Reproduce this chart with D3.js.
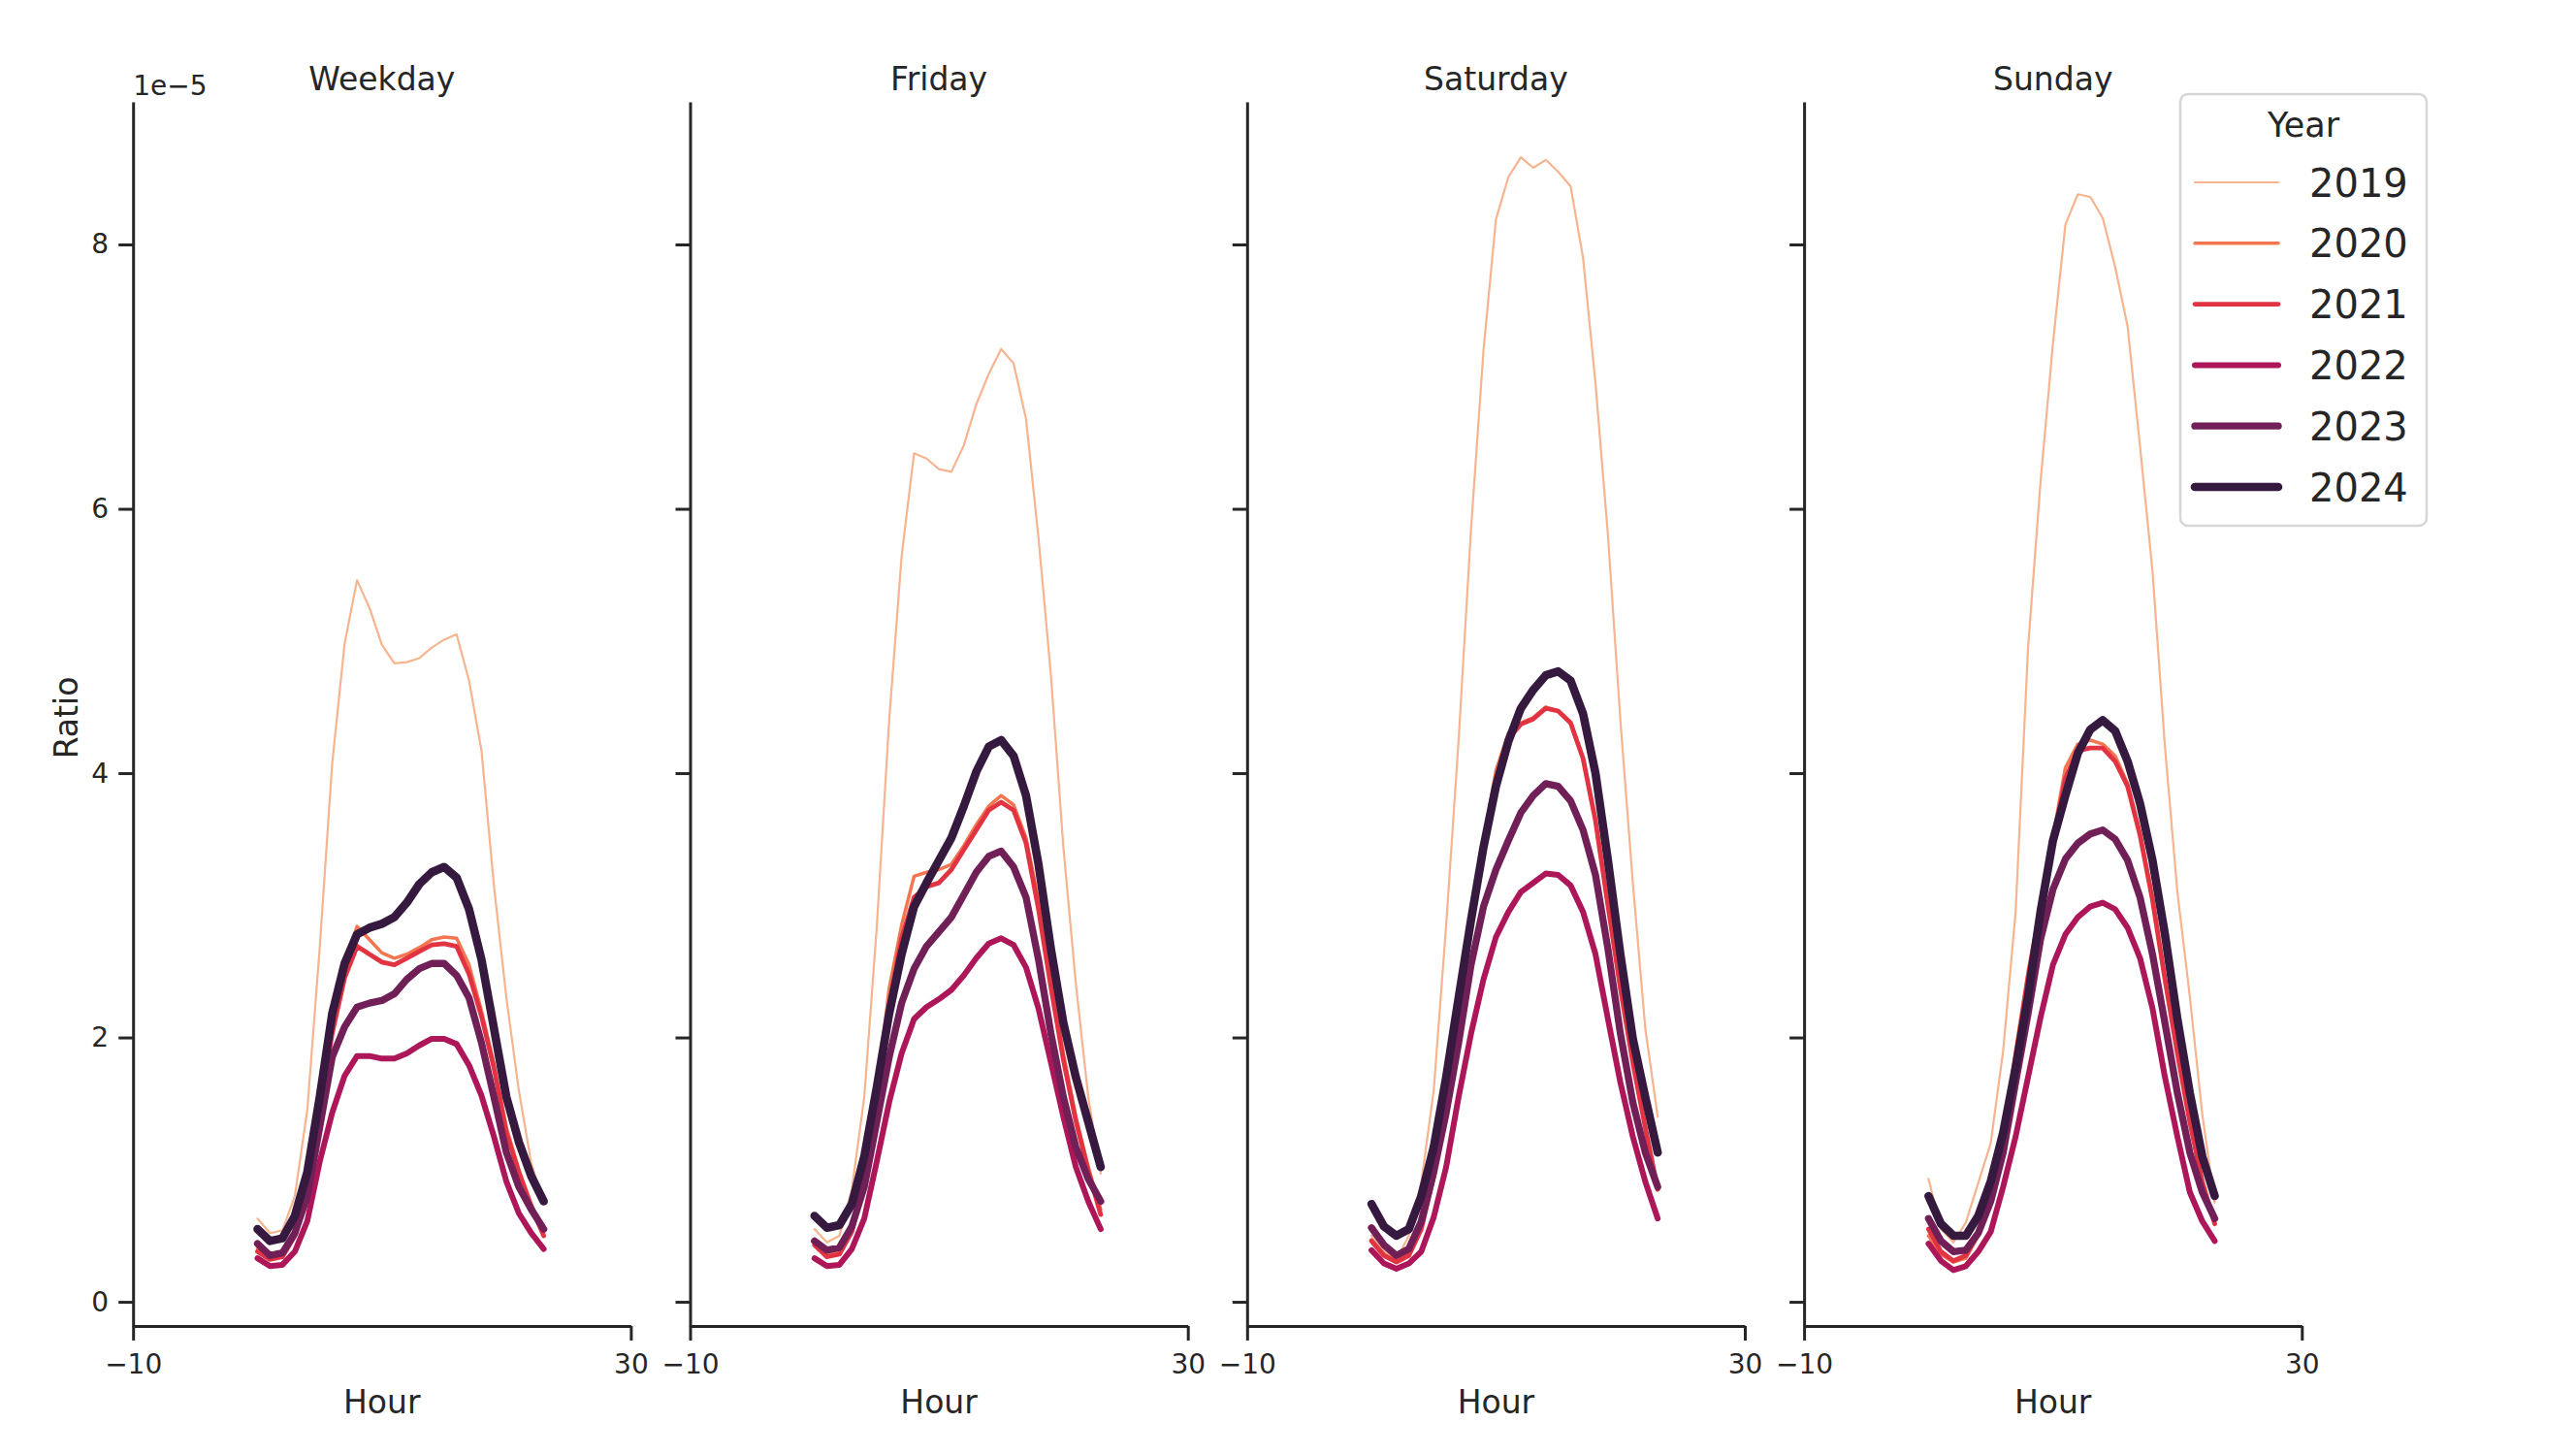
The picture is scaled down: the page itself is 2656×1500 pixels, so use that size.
<!DOCTYPE html>
<html>
<head>
<meta charset="utf-8">
<script src="https://cdn.jsdelivr.net/npm/d3@7"></script>
<style>
  html, body { margin: 0; padding: 0; background: #ffffff; }
  svg { display: block; }
  text { font-family: "DejaVu Sans", sans-serif; fill: #262626; }
</style>
</head>
<body>
<svg id="chart" width="2656" height="1500"></svg>
<script>
// ---------------- data (values in units of 1e-5) ----------------
const hours = [0, 1, 2, 3, 4, 5, 6, 7, 8, 9, 10, 11, 12, 13, 14, 15, 16, 17, 18, 19, 20, 21, 22, 23];
const years = ["2019", "2020", "2021", "2022", "2023", "2024"];
const panelNames = ["Weekday", "Friday", "Saturday", "Sunday"];
const yTicks = [0, 2, 4, 6, 8];
const xTicks = [-10, 30];
const yOffsetLabel = "1e\u22125";

const weekdayValues = [
  [0.63, 0.52, 0.54, 0.80, 1.45, 2.68, 4.07, 4.98, 5.46, 5.25, 4.97, 4.83, 4.84, 4.87, 4.95, 5.01, 5.05, 4.70, 4.17, 3.15, 2.30, 1.60, 1.05, 0.75],
  [0.40, 0.33, 0.35, 0.52, 0.92, 1.52, 2.12, 2.55, 2.84, 2.74, 2.64, 2.60, 2.63, 2.68, 2.74, 2.76, 2.75, 2.55, 2.20, 1.80, 1.32, 1.00, 0.74, 0.52],
  [0.38, 0.32, 0.34, 0.50, 0.85, 1.45, 2.03, 2.45, 2.69, 2.63, 2.57, 2.55, 2.60, 2.65, 2.70, 2.71, 2.69, 2.48, 2.16, 1.77, 1.28, 0.98, 0.72, 0.50],
  [0.33, 0.27, 0.28, 0.38, 0.61, 1.06, 1.43, 1.71, 1.86, 1.86, 1.84, 1.84, 1.88, 1.94, 1.99, 1.99, 1.95, 1.79, 1.56, 1.25, 0.91, 0.67, 0.52, 0.40],
  [0.44, 0.35, 0.37, 0.52, 0.80, 1.32, 1.85, 2.08, 2.23, 2.26, 2.28, 2.33, 2.44, 2.52, 2.56, 2.56, 2.47, 2.30, 1.96, 1.55, 1.13, 0.87, 0.70, 0.55],
  [0.55, 0.46, 0.48, 0.65, 0.98, 1.55, 2.18, 2.56, 2.78, 2.83, 2.86, 2.91, 3.02, 3.16, 3.25, 3.29, 3.21, 2.97, 2.59, 2.07, 1.55, 1.21, 0.95, 0.76]
];
const fridayValues = [
  [0.55, 0.45, 0.50, 0.85, 1.55, 2.83, 4.40, 5.64, 6.42, 6.38, 6.30, 6.28, 6.48, 6.79, 7.02, 7.21, 7.10, 6.68, 5.78, 4.74, 3.44, 2.41, 1.55, 0.97],
  [0.46, 0.36, 0.38, 0.56, 0.96, 1.58, 2.37, 2.85, 3.22, 3.25, 3.27, 3.31, 3.45, 3.61, 3.75, 3.83, 3.76, 3.51, 3.04, 2.44, 1.88, 1.40, 1.02, 0.70],
  [0.43, 0.34, 0.36, 0.53, 0.92, 1.52, 2.25, 2.75, 3.06, 3.14, 3.17, 3.27, 3.42, 3.57, 3.72, 3.78, 3.72, 3.47, 2.97, 2.38, 1.83, 1.37, 0.99, 0.66],
  [0.33, 0.27, 0.28, 0.40, 0.63, 1.06, 1.51, 1.88, 2.14, 2.23, 2.29, 2.36, 2.47, 2.60, 2.71, 2.75, 2.70, 2.53, 2.22, 1.81, 1.40, 1.02, 0.76, 0.55],
  [0.46, 0.39, 0.41, 0.57, 0.87, 1.36, 1.85, 2.26, 2.52, 2.69, 2.80, 2.91, 3.08, 3.25, 3.37, 3.41, 3.29, 3.06, 2.59, 2.03, 1.55, 1.17, 0.93, 0.76],
  [0.65, 0.56, 0.58, 0.74, 1.10, 1.62, 2.18, 2.63, 2.99, 3.17, 3.34, 3.51, 3.75, 4.01, 4.20, 4.25, 4.13, 3.83, 3.31, 2.67, 2.11, 1.70, 1.36, 1.02]
];
const saturdayValues = [
  [0.50, 0.38, 0.32, 0.50, 0.90, 1.60, 2.85, 4.25, 5.85, 7.20, 8.19, 8.51, 8.66, 8.58, 8.64, 8.55, 8.44, 7.90, 6.95, 5.80, 4.40, 3.17, 2.07, 1.40],
  [0.47, 0.36, 0.31, 0.36, 0.57, 0.97, 1.55, 2.22, 2.90, 3.47, 4.02, 4.30, 4.38, 4.42, 4.50, 4.47, 4.38, 4.11, 3.64, 3.00, 2.37, 1.81, 1.32, 0.85],
  [0.46, 0.35, 0.30, 0.35, 0.55, 0.95, 1.52, 2.18, 2.86, 3.43, 3.95, 4.26, 4.37, 4.41, 4.49, 4.47, 4.38, 4.11, 3.64, 3.00, 2.37, 1.81, 1.32, 0.85],
  [0.39, 0.29, 0.25, 0.29, 0.38, 0.64, 1.02, 1.55, 2.03, 2.44, 2.76, 2.95, 3.10, 3.17, 3.24, 3.23, 3.15, 2.95, 2.63, 2.14, 1.66, 1.25, 0.91, 0.63],
  [0.56, 0.43, 0.35, 0.40, 0.61, 0.98, 1.43, 1.96, 2.55, 2.99, 3.27, 3.49, 3.70, 3.83, 3.92, 3.90, 3.79, 3.57, 3.23, 2.67, 2.03, 1.51, 1.13, 0.87],
  [0.74, 0.57, 0.50, 0.55, 0.80, 1.17, 1.70, 2.30, 2.89, 3.44, 3.90, 4.24, 4.49, 4.63, 4.74, 4.77, 4.70, 4.45, 4.00, 3.34, 2.63, 1.99, 1.55, 1.13]
];
const sundayValues = [
  [0.93, 0.55, 0.45, 0.60, 0.90, 1.20, 1.90, 2.95, 4.95, 6.20, 7.25, 8.15, 8.38, 8.36, 8.20, 7.83, 7.38, 6.47, 5.53, 4.20, 3.10, 2.31, 1.42, 0.75],
  [0.50, 0.36, 0.30, 0.33, 0.50, 0.80, 1.27, 1.90, 2.50, 3.00, 3.52, 4.04, 4.22, 4.25, 4.22, 4.13, 3.92, 3.55, 3.06, 2.45, 1.88, 1.36, 0.91, 0.60],
  [0.55, 0.38, 0.31, 0.35, 0.52, 0.80, 1.25, 1.84, 2.45, 2.97, 3.48, 3.96, 4.17, 4.19, 4.19, 4.09, 3.90, 3.53, 3.04, 2.44, 1.88, 1.36, 0.91, 0.59],
  [0.44, 0.31, 0.24, 0.27, 0.38, 0.53, 0.87, 1.25, 1.70, 2.15, 2.55, 2.78, 2.91, 2.99, 3.02, 2.97, 2.83, 2.60, 2.22, 1.70, 1.25, 0.83, 0.61, 0.46],
  [0.63, 0.46, 0.38, 0.39, 0.52, 0.76, 1.13, 1.66, 2.18, 2.74, 3.12, 3.35, 3.47, 3.54, 3.57, 3.50, 3.34, 3.06, 2.63, 2.11, 1.58, 1.13, 0.83, 0.63],
  [0.80, 0.59, 0.50, 0.50, 0.65, 0.91, 1.28, 1.77, 2.31, 2.95, 3.49, 3.83, 4.15, 4.33, 4.40, 4.32, 4.09, 3.77, 3.34, 2.78, 2.14, 1.58, 1.10, 0.80]
];
const panelValues = [weekdayValues, fridayValues, saturdayValues, sundayValues];

// ---------------- styles ----------------
const colors = ["#f6b48f", "#f37651", "#e13342", "#ad1759", "#701f57", "#35193e"];
const widths = [2.2, 3.5, 4.8, 6.0, 7.3, 8.6];
const ink = "#262626";

// ---------------- layout ----------------
const svg = d3.select("#chart");
svg.append("rect").attr("width", 2656).attr("height", 1500).attr("fill", "#ffffff");

const panelLeft0 = 137.2, panelStep = 574.3, panelW = 513.2;
const plotTop = 105, plotBottom = 1367;

const y = d3.scaleLinear().domain([-0.183, 9.079]).range([plotBottom, plotTop]);
const x = d3.scaleLinear().domain([-10, 30]).range([0, panelW]);

const line = d3.line()
  .x((d, i) => x(hours[i]))
  .y(d => y(d));

panelNames.forEach((name, p) => {
  const g = svg.append("g").attr("transform", `translate(${panelLeft0 + p * panelStep},0)`);

  // lines
  const vals = panelValues[p];
  years.forEach((yr, k) => {
    g.append("path")
      .datum(vals[k])
      .attr("d", line)
      .attr("fill", "none")
      .attr("stroke", colors[k])
      .attr("stroke-width", widths[k])
      .attr("stroke-linejoin", "round")
      .attr("stroke-linecap", "round");
  });

  // y axis
  const yAxis = d3.axisLeft(y).tickValues(yTicks).tickSize(15).tickSizeOuter(0).tickPadding(10)
    .tickFormat(p === 0 ? d3.format("d") : () => "");
  const ya = g.append("g").call(yAxis);
  ya.select(".domain").attr("stroke", ink).attr("stroke-width", 3);
  ya.selectAll(".tick line").attr("stroke", ink).attr("stroke-width", 3);
  ya.selectAll(".tick text").attr("font-size", 28).attr("fill", ink)
    .attr("font-family", "DejaVu Sans");

  // x axis
  const xAxis = d3.axisBottom(x).tickValues(xTicks).tickSize(15).tickSizeOuter(0).tickPadding(14);
  const xa = g.append("g").attr("transform", `translate(0,${plotBottom})`).call(xAxis);
  xa.select(".domain").attr("stroke", ink).attr("stroke-width", 3);
  xa.selectAll(".tick line").attr("stroke", ink).attr("stroke-width", 3);
  xa.selectAll(".tick text").attr("font-size", 28).attr("fill", ink)
    .attr("font-family", "DejaVu Sans");

  // title
  g.append("text").attr("x", panelW / 2).attr("y", 93)
    .attr("text-anchor", "middle").attr("font-size", 33).text(name);

  // x label
  g.append("text").attr("x", panelW / 2).attr("y", 1457)
    .attr("text-anchor", "middle").attr("font-size", 33).text("Hour");

  if (p === 0) {
    g.append("text").attr("x", 0).attr("y", 98)
      .attr("font-size", 28).text(yOffsetLabel);
    svg.append("text").attr("transform", "translate(80,740) rotate(-90)")
      .attr("text-anchor", "middle").attr("font-size", 33).text("Ratio");
  }
});

// ---------------- legend ----------------
const lg = svg.append("g");
lg.append("rect").attr("x", 2248).attr("y", 97).attr("width", 254).attr("height", 445)
  .attr("rx", 8).attr("ry", 8)
  .attr("fill", "#ffffff").attr("fill-opacity", 0.8)
  .attr("stroke", "#d6d6d6").attr("stroke-width", 2.5);
lg.append("text").attr("x", 2375).attr("y", 141).attr("text-anchor", "middle")
  .attr("font-size", 35).text("Year");
const rowY = d3.scalePoint().domain(years).range([188, 502]);
years.forEach((yr, k) => {
  const ry = rowY(yr);
  lg.append("line").attr("x1", 2263).attr("x2", 2349).attr("y1", ry).attr("y2", ry)
    .attr("stroke", colors[k]).attr("stroke-width", widths[k]).attr("stroke-linecap", "round");
  lg.append("text").attr("x", 2381).attr("y", ry + 14.5).attr("font-size", 40).text(yr);
});
</script>
</body>
</html>
